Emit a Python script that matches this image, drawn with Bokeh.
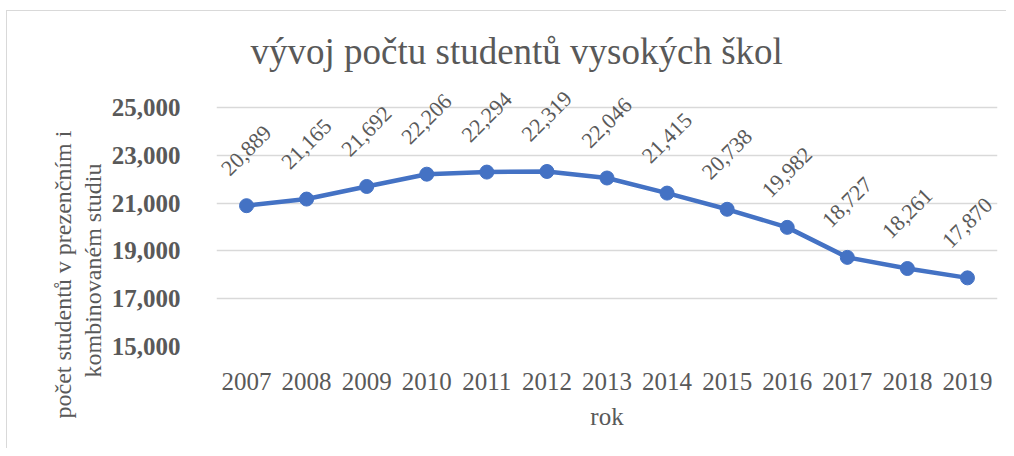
import math
from bokeh.plotting import figure
from bokeh.layouts import row
from bokeh.models import (FactorRange, Range1d, FixedTicker, NumeralTickFormatter,
                          ColumnDataSource)
from bokeh.embed import file_html
from bokeh.resources import INLINE
from bokeh.core.properties import value

# ---- data ----
years = ["2007", "2008", "2009", "2010", "2011", "2012", "2013",
         "2014", "2015", "2016", "2017", "2018", "2019"]
students = [20889, 21165, 21692, 22206, 22294, 22319, 22046,
            21415, 20738, 19982, 18727, 18261, 17870]
y_ticks = [15000, 17000, 19000, 21000, 23000, 25000]
title_text = "vývoj počtu studentů vysokých škol"
x_title = "rok"
y_title_lines = ["počet studentů v prezenčním i", "kombinovaném studiu"]

FONT = "Liberation Serif"
TXT = "#595959"
BLUE = "#4472C4"
GRID = "#D9D9D9"
H = 437
SIDE_W = 101

# ---- left strip holding the two-line y-axis title ----
side = figure(width=SIDE_W, height=H, output_backend="svg", toolbar_location=None,
              x_range=Range1d(0, SIDE_W), y_range=Range1d(0, H),
              x_axis_type=None, y_axis_type=None,
              min_border=0, min_border_left=0, min_border_right=0,
              min_border_top=0, min_border_bottom=0)
side.frame_align = False
side.outline_line_color = None
side.xgrid.visible = False
side.ygrid.visible = False
side.text(x=[55, 85], y=[174, 178], text=y_title_lines, angle=math.pi / 2,
          text_align="center", text_baseline="alphabetic",
          text_font=value(FONT), text_font_size="24px", text_color=TXT)

# ---- main chart ----
src = ColumnDataSource(dict(x=years, y=students,
                            lab=[f"{v:,}" for v in students]))

p = figure(width=898, height=H, output_backend="svg", toolbar_location=None,
           x_range=FactorRange(*years), y_range=Range1d(15000, 26500),
           min_border_left=105, min_border_right=9,
           min_border_top=60, min_border_bottom=102,
           background_fill_color="white", border_fill_color="white")
p.frame_align = False
p.outline_line_color = None

p.title.text = title_text
p.title.text_font = FONT
p.title.text_font_size = "37px"
p.title.text_font_style = "normal"
p.title.text_color = TXT
p.title.align = "left"
p.title.offset = 34
p.title.standoff = 0

# axes
p.yaxis.ticker = FixedTicker(ticks=y_ticks)
p.yaxis.formatter = NumeralTickFormatter(format="0,0")
for ax in (p.xaxis, p.yaxis):
    ax.axis_line_color = None
    ax.major_tick_line_color = None
    ax.minor_tick_line_color = None
    ax.major_label_text_font = FONT
    ax.major_label_text_color = TXT
p.yaxis.major_label_text_font_size = "25px"
p.yaxis.major_label_text_font_style = "bold"
p.yaxis.major_label_standoff = 30
p.xaxis.major_label_text_font_size = "25px"
p.xaxis.major_label_standoff = 20
p.xaxis.axis_label = x_title
p.xaxis.axis_label_text_font = FONT
p.xaxis.axis_label_text_font_size = "25px"
p.xaxis.axis_label_text_font_style = "normal"
p.xaxis.axis_label_text_color = TXT
p.xaxis.axis_label_standoff = 10

p.xgrid.grid_line_color = None
p.ygrid.grid_line_color = GRID
p.ygrid.grid_line_width = 1.5

# series
p.line("x", "y", source=src, line_color=BLUE, line_width=4.5, line_join="round")
p.scatter("x", "y", source=src, size=14, fill_color=BLUE, line_color=BLUE)
p.text("x", "y", text="lab", source=src, angle=math.pi / 4,
       text_align="center", text_baseline="middle", y_offset=-55,
       text_font=value(FONT), text_font_size="22px", text_color=TXT)

layout = row(side, p)
layout.margin = (10, 0, 0, 6)
layout.styles = {"border-top": "1px solid #d9d9d9", "border-left": "1px solid #d9d9d9"}
open("out.html", "w").write(file_html(layout, INLINE))
